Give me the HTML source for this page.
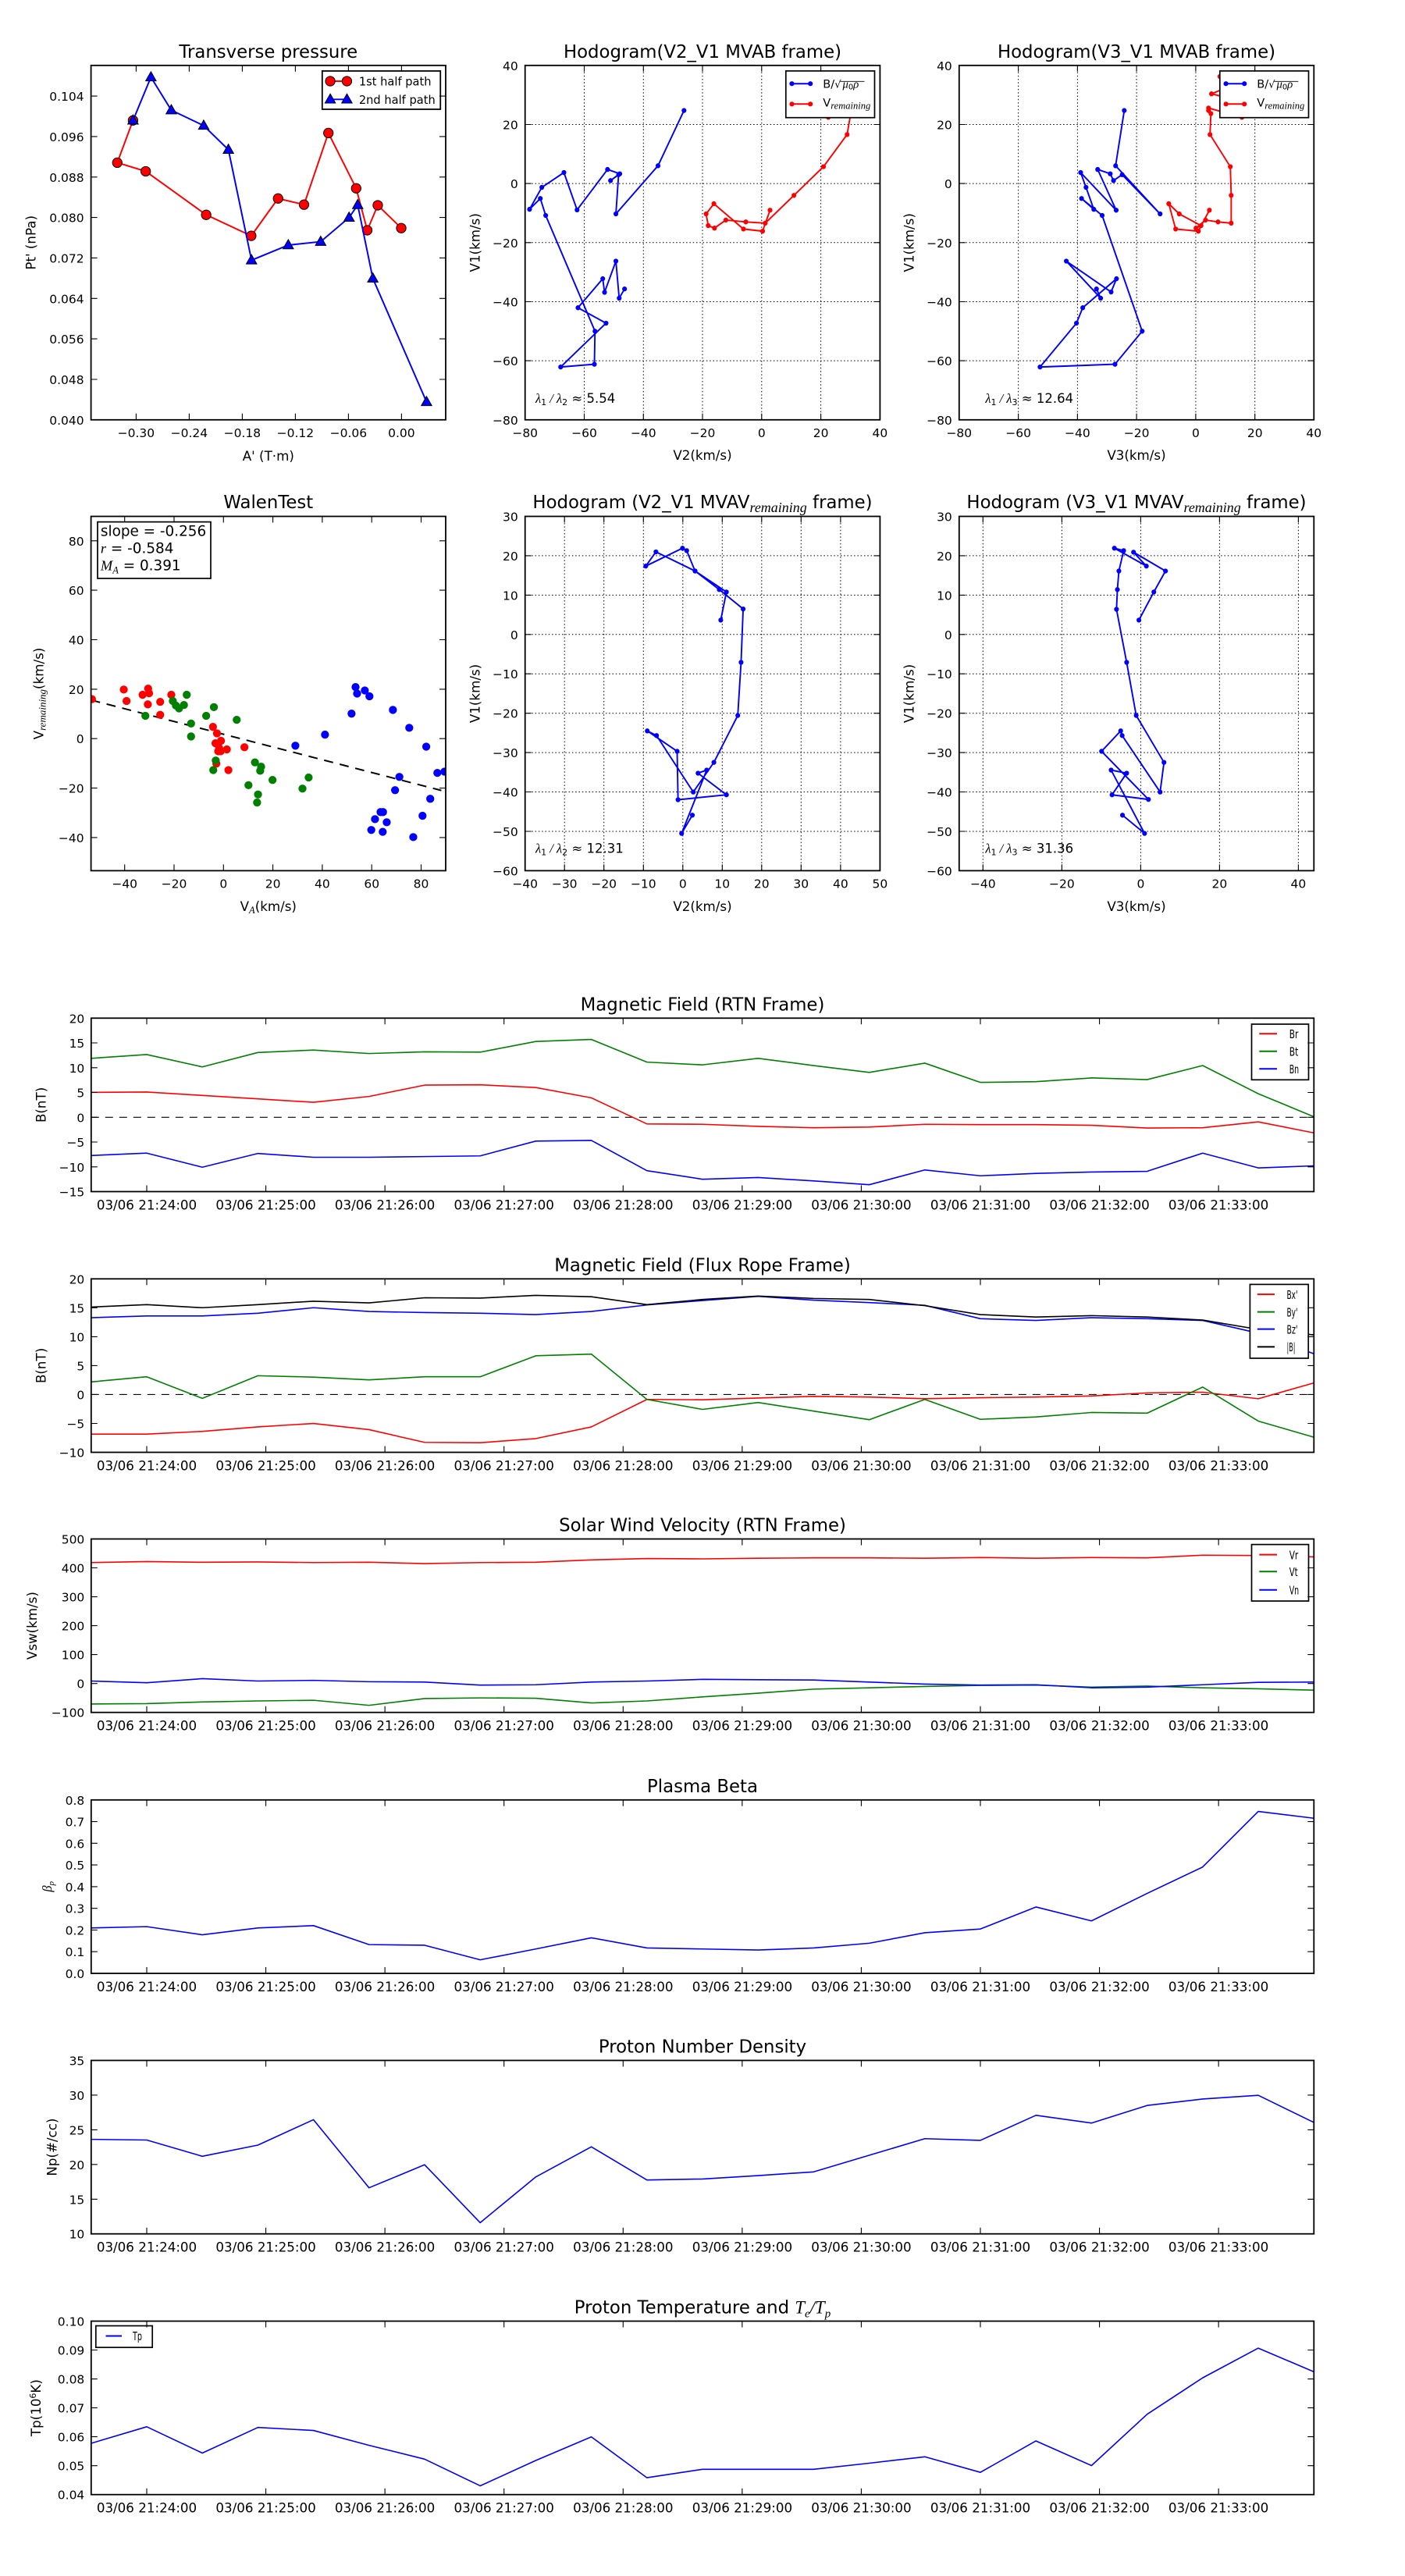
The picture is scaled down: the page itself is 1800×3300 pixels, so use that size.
<!DOCTYPE html>
<html><head><meta charset="utf-8"><style>
html,body{margin:0;padding:0;background:#fff}
svg{display:block}
text{font-family:"DejaVu Sans","Liberation Sans",sans-serif;fill:#000}
.tk{font-size:15.5px}
.tx{font-size:16.7px;text-anchor:middle}
.tt{font-size:22.8px;text-anchor:middle}
.lb{font-size:16.7px;text-anchor:middle}
.e{text-anchor:end}
.m{text-anchor:middle}
.fr{fill:none;stroke:#000;stroke-width:1.8}
.tick{fill:none;stroke:#000;stroke-width:1.1}
.grid{fill:none;stroke:#000;stroke-width:1;stroke-dasharray:1.5,2.8}
.mi{font-family:"Liberation Serif","DejaVu Serif",serif;font-style:italic}
.ns{vector-effect:non-scaling-stroke;fill:none;stroke-width:1.6;stroke-linejoin:round}
.lg{font-size:15px}
</style></head><body>
<svg width="1800" height="3300" viewBox="0 0 1800 3300" xmlns="http://www.w3.org/2000/svg">
<defs>
<marker id="ar" markerUnits="userSpaceOnUse" markerWidth="40" markerHeight="40" refX="20" refY="20" overflow="visible"><circle cx="20" cy="20" r="15.5" fill="#f00" stroke="#000" stroke-width="2.5"/></marker>
<marker id="ab" markerUnits="userSpaceOnUse" markerWidth="40" markerHeight="40" refX="20" refY="20" overflow="visible"><path d="M20,2L37,32L3,32Z" fill="#00f" stroke="#000" stroke-width="2.5"/></marker>
<marker id="hb" markerUnits="userSpaceOnUse" markerWidth="20" markerHeight="20" refX="10" refY="10" overflow="visible"><circle cx="10" cy="10" r="8" fill="#00f"/></marker>
<marker id="hr" markerUnits="userSpaceOnUse" markerWidth="20" markerHeight="20" refX="10" refY="10" overflow="visible"><circle cx="10" cy="10" r="8" fill="#f00"/></marker>
<marker id="wr" markerUnits="userSpaceOnUse" markerWidth="30" markerHeight="30" refX="15" refY="15" overflow="visible"><circle cx="15" cy="15" r="13" fill="#f00"/></marker>
<marker id="wg" markerUnits="userSpaceOnUse" markerWidth="30" markerHeight="30" refX="15" refY="15" overflow="visible"><circle cx="15" cy="15" r="13" fill="#008000"/></marker>
<marker id="wb" markerUnits="userSpaceOnUse" markerWidth="30" markerHeight="30" refX="15" refY="15" overflow="visible"><circle cx="15" cy="15" r="13" fill="#00f"/></marker>
<clipPath id="cw"><rect x="295" y="105" width="1149" height="1148"/></clipPath>
</defs>

<!-- ===================== Panel A: Transverse pressure ===================== -->
<text class="tt" x="343.8" y="74">Transverse pressure</text>
<g transform="scale(0.39541)">
<polyline points="431,390 380,527 472,555 668,696 814,764 901,643 985,663 1064,431 1154,610 1190,746 1224,665 1300,739" fill="none" stroke="#f00" stroke-width="5" marker-start="url(#ar)" marker-mid="url(#ar)" marker-end="url(#ar)"/>
<polyline points="1382,1302 1208,902 1159,664 1131,705 1039,783 934,794 815,843 740,485 660,407 555,357 489,250 431,390" fill="none" stroke="#00f" stroke-width="5" marker-start="url(#ab)" marker-mid="url(#ab)" marker-end="url(#ab)"/>
<rect x="1044" y="230" width="383" height="124" fill="#fff" stroke="#000" stroke-width="4.5"/>
<polyline points="1070,263 1124,263" fill="none" stroke="#f00" stroke-width="5" marker-start="url(#ar)" marker-end="url(#ar)"/>
<polyline points="1070,322 1124,322" fill="none" stroke="#00f" stroke-width="5" marker-start="url(#ab)" marker-end="url(#ab)"/>
<text x="1163" y="277" font-size="37">1st half path</text>
<text x="1163" y="336" font-size="37">2nd half path</text>
</g>
<rect class="fr" x="116.6" y="83.8" width="454.4" height="454"/>
<path class="tick" d="M174.4 537.8v-8M242.4 537.8v-8M310.4 537.8v-8M378.4 537.8v-8M446.4 537.8v-8M514.4 537.8v-8M174.4 83.8v8M242.4 83.8v8M310.4 83.8v8M378.4 83.8v8M446.4 83.8v8M514.4 83.8v8M116.6 486h8M116.6 434.1h8M116.6 382.3h8M116.6 330.4h8M116.6 278.6h8M116.6 226.8h8M116.6 174.9h8M116.6 123.1h8M571 486h-8M571 434.1h-8M571 382.3h-8M571 330.4h-8M571 278.6h-8M571 226.8h-8M571 174.9h-8M571 123.1h-8"/>
<g class="tk e">
<text x="107.6" y="543.8">0.040</text><text x="107.6" y="492">0.048</text><text x="107.6" y="440.1">0.056</text><text x="107.6" y="388.3">0.064</text><text x="107.6" y="336.4">0.072</text><text x="107.6" y="284.6">0.080</text><text x="107.6" y="232.8">0.088</text><text x="107.6" y="180.9">0.096</text><text x="107.6" y="129.1">0.104</text>
</g>
<g class="tk m">
<text x="174.4" y="559.8">−0.30</text><text x="242.4" y="559.8">−0.24</text><text x="310.4" y="559.8">−0.18</text><text x="378.4" y="559.8">−0.12</text><text x="446.4" y="559.8">−0.06</text><text x="514.4" y="559.8">0.00</text>
</g>
<text class="lb" x="343.8" y="590">A' (T·m)</text>
<text class="lb" transform="translate(45.5,310.8) rotate(-90)">Pt' (nPa)</text>

<!-- ===================== Panel B: Hodogram V2_V1 ===================== -->
<text class="tt" x="900" y="74">Hodogram(V2_V1 MVAB frame)</text>
<path class="grid" d="M748.5 83.8V537.8M824.3 83.8V537.8M900 83.8V537.8M975.8 83.8V537.8M1051.6 83.8V537.8M672.7 159.5H1127.4M672.7 235.1H1127.4M672.7 310.8H1127.4M672.7 386.5H1127.4M672.7 462.1H1127.4"/>
<g transform="translate(600,0) scale(0.3827,0.39541)">
<polyline points="722,358 635,537 494,693 503,566 476,585 507,563 466,549 364,680 320,559 246,607 205,678 241,643 259,698 424,1073 422,1180 309,1189 461,1047 367,997 450,903 456,947 494,846 505,966 523,936" fill="none" stroke="#00f" stroke-width="5" marker-start="url(#hb)" marker-mid="url(#hb)" marker-end="url(#hb)"/>
<polyline points="1300,250 1310,272 1290,304 1300,325 1205,380 1285,350 1290,358 1280,368 1268,436 1189,540 1090,633 994,723 929,719 862,713 824,739 803,731 796,693 822,660 921,742 985,749 1010,681" fill="none" stroke="#f00" stroke-width="5" marker-start="url(#hr)" marker-mid="url(#hr)" marker-end="url(#hr)"/>
</g>
<rect x="1006.8" y="90.9" width="113.7" height="59.8" fill="#fff" stroke="#000" stroke-width="1.7"/>
<path d="M1014.5 107.2H1038.2" stroke="#00f" stroke-width="2"/><circle cx="1014.5" cy="107.2" r="3.1" fill="#00f"/><circle cx="1038.2" cy="107.2" r="3.1" fill="#00f"/>
<path d="M1014.5 133.3H1038.2" stroke="#f00" stroke-width="2"/><circle cx="1014.5" cy="133.3" r="3.1" fill="#f00"/><circle cx="1038.2" cy="133.3" r="3.1" fill="#f00"/>
<text x="1054.3" y="112.7" font-size="14.6">B/<tspan font-size="13">√</tspan><tspan class="mi" dx="2">μ</tspan><tspan font-size="10" dy="2">0</tspan><tspan class="mi" dy="-2">ρ</tspan></text>
<path d="M1075.8 104.3H1107.5" stroke="#000" stroke-width="0.9"/>
<text x="1054.3" y="136.7" font-size="14.6">V<tspan class="mi" font-size="12.5" dy="2.6">remaining</tspan></text>
<rect class="fr" x="672.7" y="83.8" width="454.7" height="454"/>
<path class="tick" d="M748.5 537.8v-8M824.3 537.8v-8M900 537.8v-8M975.8 537.8v-8M1051.6 537.8v-8M748.5 83.8v8M824.3 83.8v8M900 83.8v8M975.8 83.8v8M1051.6 83.8v8M672.7 159.5h8M672.7 235.1h8M672.7 310.8h8M672.7 386.5h8M672.7 462.1h8M1127.4 159.5h-8M1127.4 235.1h-8M1127.4 310.8h-8M1127.4 386.5h-8M1127.4 462.1h-8"/>
<g class="tk e">
<text x="663.7" y="89.8">40</text><text x="663.7" y="165.5">20</text><text x="663.7" y="241.1">0</text><text x="663.7" y="316.8">−20</text><text x="663.7" y="392.5">−40</text><text x="663.7" y="468.1">−60</text><text x="663.7" y="543.8">−80</text>
</g>
<g class="tk m">
<text x="672.7" y="559.8">−80</text><text x="748.5" y="559.8">−60</text><text x="824.3" y="559.8">−40</text><text x="900" y="559.8">−20</text><text x="975.8" y="559.8">0</text><text x="1051.6" y="559.8">20</text><text x="1127.4" y="559.8">40</text>
</g>
<text x="686" y="516" font-size="16.5"><tspan class="mi">λ</tspan><tspan font-size="11" dy="3">1</tspan><tspan class="mi" dy="-3"> / λ</tspan><tspan font-size="11" dy="3">2</tspan><tspan dy="-3"> ≈ 5.54</tspan></text>
<text class="lb" x="900" y="589">V2(km/s)</text>
<text class="lb" transform="translate(614.4,310.8) rotate(-90)">V1(km/s)</text>

<!-- ===================== Panel C: Hodogram V3_V1 ===================== -->
<text class="tt" x="1456" y="74">Hodogram(V3_V1 MVAB frame)</text>
<path class="grid" d="M1304.6 83.8V537.8M1380.4 83.8V537.8M1456.1 83.8V537.8M1531.9 83.8V537.8M1607.7 83.8V537.8M1228.8 159.5H1683.3M1228.8 235.1H1683.3M1228.8 310.8H1683.3M1228.8 386.5H1683.3M1228.8 462.1H1683.3"/>
<g transform="translate(1200,0) scale(0.3827,0.39541)">
<polyline points="628,358 599,537 748,693 621,566 592,585 581,563 539,549 601,681 482,559 500,607 526,678 485,643 554,698 688,1073 597,1180 346,1189 468,1047 489,997 602,903 584,946 434,846 549,966 535,936" fill="none" stroke="#00f" stroke-width="5" marker-start="url(#hb)" marker-mid="url(#hb)" marker-end="url(#hb)"/>
<polyline points="948,248 1000,272 920,304 1010,325 1022,380 910,350 910,358 918,368 915,436 983,540 986,633 986,723 942,719 900,713 868,739 885,731 812,693 777,660 800,742 876,749 913,681" fill="none" stroke="#f00" stroke-width="5" marker-start="url(#hr)" marker-mid="url(#hr)" marker-end="url(#hr)"/>
</g>
<rect x="1562.8" y="90.9" width="113.7" height="59.8" fill="#fff" stroke="#000" stroke-width="1.7"/>
<path d="M1570.6 107.2H1594.2" stroke="#00f" stroke-width="2"/><circle cx="1570.6" cy="107.2" r="3.1" fill="#00f"/><circle cx="1594.2" cy="107.2" r="3.1" fill="#00f"/>
<path d="M1570.6 133.3H1594.2" stroke="#f00" stroke-width="2"/><circle cx="1570.6" cy="133.3" r="3.1" fill="#f00"/><circle cx="1594.2" cy="133.3" r="3.1" fill="#f00"/>
<text x="1610.3" y="112.7" font-size="14.6">B/<tspan font-size="13">√</tspan><tspan class="mi" dx="2">μ</tspan><tspan font-size="10" dy="2">0</tspan><tspan class="mi" dy="-2">ρ</tspan></text>
<path d="M1631.7 104.3H1663.3" stroke="#000" stroke-width="0.9"/>
<text x="1610.3" y="136.7" font-size="14.6">V<tspan class="mi" font-size="12.5" dy="2.6">remaining</tspan></text>
<rect class="fr" x="1228.8" y="83.8" width="454.5" height="454"/>
<path class="tick" d="M1304.6 537.8v-8M1380.4 537.8v-8M1456.1 537.8v-8M1531.9 537.8v-8M1607.7 537.8v-8M1304.6 83.8v8M1380.4 83.8v8M1456.1 83.8v8M1531.9 83.8v8M1607.7 83.8v8M1228.8 159.5h8M1228.8 235.1h8M1228.8 310.8h8M1228.8 386.5h8M1228.8 462.1h8M1683.3 159.5h-8M1683.3 235.1h-8M1683.3 310.8h-8M1683.3 386.5h-8M1683.3 462.1h-8"/>
<g class="tk e">
<text x="1219.8" y="89.8">40</text><text x="1219.8" y="165.5">20</text><text x="1219.8" y="241.1">0</text><text x="1219.8" y="316.8">−20</text><text x="1219.8" y="392.5">−40</text><text x="1219.8" y="468.1">−60</text><text x="1219.8" y="543.8">−80</text>
</g>
<g class="tk m">
<text x="1228.8" y="559.8">−80</text><text x="1304.6" y="559.8">−60</text><text x="1380.4" y="559.8">−40</text><text x="1456.1" y="559.8">−20</text><text x="1531.9" y="559.8">0</text><text x="1607.7" y="559.8">20</text><text x="1683.3" y="559.8">40</text>
</g>
<text x="1262.4" y="516" font-size="16.5"><tspan class="mi">λ</tspan><tspan font-size="11" dy="3">1</tspan><tspan class="mi" dy="-3"> / λ</tspan><tspan font-size="11" dy="3">3</tspan><tspan dy="-3"> ≈ 12.64</tspan></text>
<text class="lb" x="1456" y="589">V3(km/s)</text>
<text class="lb" transform="translate(1170.5,310.8) rotate(-90)">V1(km/s)</text>

<!-- ===================== Walen test ===================== -->
<text class="tt" x="343.8" y="651">WalenTest</text>
<g transform="translate(0,620) scale(0.39541)">
<g clip-path="url(#cw)">
<path d="M295 700L1430 993" stroke="#000" stroke-width="5" stroke-dasharray="30,22" fill="none"/>
<polyline fill="none" stroke="none" marker-start="url(#wr)" marker-mid="url(#wr)" marker-end="url(#wr)" points="298,697 401,666 410,703 462,683 480,663 483,678 479,714 519,706 519,748 555,683 690,787 703,808 698,840 716,832 710,855 707,866 715,866 735,860 792,853 740,927 701,906"/>
<polyline fill="none" stroke="none" marker-start="url(#wg)" marker-mid="url(#wg)" marker-end="url(#wg)" points="471,751 560,703 570,718 580,727 596,716 605,683 619,776 619,818 668,751 693,723 767,764 699,896 691,927 826,902 846,916 843,929 805,976 836,1006 833,1032 883,959 980,987 1000,951"/>
<polyline fill="none" stroke="none" marker-start="url(#wb)" marker-mid="url(#wb)" marker-end="url(#wb)" points="957,848 1053,812 1139,744 1152,658 1157,679 1182,669 1197,688 1273,732 1326,790 1381,851 1417,936 1440,932 1294,949 1280,992 1394,1020 1369,1075 1233,1063 1241,1063 1215,1086 1253,1096 1203,1121 1240,1127 1339,1144"/>
</g>
</g>
<rect x="125" y="668.6" width="145" height="72.4" fill="#fff" stroke="#000" stroke-width="1.7"/>
<text x="128.9" y="686.4" font-size="18.4">slope = -0.256</text>
<text x="128.9" y="708.6" font-size="18.4"><tspan class="mi">r</tspan> = -0.584</text>
<text x="128.9" y="730.7" font-size="18.4"><tspan class="mi">M</tspan><tspan class="mi" font-size="12.5" dy="4">A</tspan><tspan dy="-4"> = 0.391</tspan></text>
<rect class="fr" x="116.6" y="661.5" width="454.4" height="453.9"/>
<path class="tick" d="M159.7 1115.4v-8M223 1115.4v-8M286.3 1115.4v-8M349.6 1115.4v-8M412.9 1115.4v-8M476.2 1115.4v-8M539.5 1115.4v-8M159.7 661.5v8M223 661.5v8M286.3 661.5v8M349.6 661.5v8M412.9 661.5v8M476.2 661.5v8M539.5 661.5v8M116.6 692.8h8M116.6 756.1h8M116.6 819.5h8M116.6 882.9h8M116.6 946.2h8M116.6 1009.6h8M116.6 1072.9h8M571 692.8h-8M571 756.1h-8M571 819.5h-8M571 882.9h-8M571 946.2h-8M571 1009.6h-8M571 1072.9h-8"/>
<g class="tk e">
<text x="107.6" y="698.8">80</text><text x="107.6" y="762.1">60</text><text x="107.6" y="825.5">40</text><text x="107.6" y="888.9">20</text><text x="107.6" y="952.2">0</text><text x="107.6" y="1015.6">−20</text><text x="107.6" y="1078.9">−40</text>
</g>
<g class="tk m">
<text x="159.7" y="1137.4">−40</text><text x="223" y="1137.4">−20</text><text x="286.3" y="1137.4">0</text><text x="349.6" y="1137.4">20</text><text x="412.9" y="1137.4">40</text><text x="476.2" y="1137.4">60</text><text x="539.5" y="1137.4">80</text>
</g>
<text class="lb" x="343.8" y="1167">V<tspan class="mi" font-size="12.5" dy="3">A</tspan><tspan dy="-3">(km/s)</tspan></text>
<text class="lb" transform="translate(55.4,888.5) rotate(-90)">V<tspan class="mi" font-size="13" dy="3">remaining</tspan><tspan dy="-3">(km/s)</tspan></text>

<!-- ===================== Hodogram V2_V1 MVAV ===================== -->
<text class="tt" x="900" y="651">Hodogram (V2_V1 MVAV<tspan class="mi" font-size="18" dy="5">remaining</tspan><tspan dy="-5"> frame)</tspan></text>
<path class="grid" d="M723.2 661.5V1115.4M773.7 661.5V1115.4M824.3 661.5V1115.4M874.8 661.5V1115.4M925.3 661.5V1115.4M975.8 661.5V1115.4M1026.3 661.5V1115.4M1076.9 661.5V1115.4M672.7 711.9H1127.4M672.7 762.4H1127.4M672.7 812.8H1127.4M672.7 863.2H1127.4M672.7 913.7H1127.4M672.7 964.1H1127.4M672.7 1014.5H1127.4M672.7 1065H1127.4"/>
<g transform="translate(600,620) scale(0.3827,0.39541)">
<polyline points="845,441 864,350 759,282 628,220 594,266 717,208 731,216 759,282 840,342 920,405 913,578 902,750 822,902 753,998 630,815 599,800 699,866 702,1023 864,1007 769,937 798,927 714,1132 750,1073" fill="none" stroke="#00f" stroke-width="5" marker-start="url(#hb)" marker-mid="url(#hb)" marker-end="url(#hb)"/>
</g>
<rect class="fr" x="672.7" y="661.5" width="454.7" height="453.9"/>
<path class="tick" d="M723.2 1115.4v-8M773.7 1115.4v-8M824.3 1115.4v-8M874.8 1115.4v-8M925.3 1115.4v-8M975.8 1115.4v-8M1026.3 1115.4v-8M1076.9 1115.4v-8M723.2 661.5v8M773.7 661.5v8M824.3 661.5v8M874.8 661.5v8M925.3 661.5v8M975.8 661.5v8M1026.3 661.5v8M1076.9 661.5v8M672.7 711.9h8M672.7 762.4h8M672.7 812.8h8M672.7 863.2h8M672.7 913.7h8M672.7 964.1h8M672.7 1014.5h8M672.7 1065h8M1127.4 711.9h-8M1127.4 762.4h-8M1127.4 812.8h-8M1127.4 863.2h-8M1127.4 913.7h-8M1127.4 964.1h-8M1127.4 1014.5h-8M1127.4 1065h-8"/>
<g class="tk e">
<text x="663.7" y="667.5">30</text><text x="663.7" y="717.9">20</text><text x="663.7" y="768.4">10</text><text x="663.7" y="818.8">0</text><text x="663.7" y="869.2">−10</text><text x="663.7" y="919.7">−20</text><text x="663.7" y="970.1">−30</text><text x="663.7" y="1020.5">−40</text><text x="663.7" y="1071">−50</text><text x="663.7" y="1121.4">−60</text>
</g>
<g class="tk m">
<text x="672.7" y="1137.4">−40</text><text x="723.2" y="1137.4">−30</text><text x="773.7" y="1137.4">−20</text><text x="824.3" y="1137.4">−10</text><text x="874.8" y="1137.4">0</text><text x="925.3" y="1137.4">10</text><text x="975.8" y="1137.4">20</text><text x="1026.3" y="1137.4">30</text><text x="1076.9" y="1137.4">40</text><text x="1127.4" y="1137.4">50</text>
</g>
<text x="686" y="1092.5" font-size="16.5"><tspan class="mi">λ</tspan><tspan font-size="11" dy="3">1</tspan><tspan class="mi" dy="-3"> / λ</tspan><tspan font-size="11" dy="3">2</tspan><tspan dy="-3"> ≈ 12.31</tspan></text>
<text class="lb" x="900" y="1167">V2(km/s)</text>
<text class="lb" transform="translate(614.4,888.5) rotate(-90)">V1(km/s)</text>

<!-- ===================== Hodogram V3_V1 MVAV ===================== -->
<text class="tt" x="1456" y="651">Hodogram (V3_V1 MVAV<tspan class="mi" font-size="18" dy="5">remaining</tspan><tspan dy="-5"> frame)</tspan></text>
<path class="grid" d="M1259.3 661.5V1115.4M1360.4 661.5V1115.4M1461.4 661.5V1115.4M1562.4 661.5V1115.4M1663.4 661.5V1115.4M1228.8 711.9H1683.3M1228.8 762.4H1683.3M1228.8 812.8H1683.3M1228.8 863.2H1683.3M1228.8 913.7H1683.3M1228.8 964.1H1683.3M1228.8 1014.5H1683.3M1228.8 1065H1683.3"/>
<g transform="translate(1200,620) scale(0.3827,0.39541)">
<polyline points="677,441 727,350 766,282 659,221 702,266 595,208 626,216 610,282 605,342 602,406 636,578 668,750 761,902 748,998 621,815 616,800 552,866 709,1022 587,1007 636,937 584,927 696,1132 622,1073" fill="none" stroke="#00f" stroke-width="5" marker-start="url(#hb)" marker-mid="url(#hb)" marker-end="url(#hb)"/>
</g>
<rect class="fr" x="1228.8" y="661.5" width="454.5" height="453.9"/>
<path class="tick" d="M1259.3 1115.4v-8M1360.4 1115.4v-8M1461.4 1115.4v-8M1562.4 1115.4v-8M1663.4 1115.4v-8M1259.3 661.5v8M1360.4 661.5v8M1461.4 661.5v8M1562.4 661.5v8M1663.4 661.5v8M1228.8 711.9h8M1228.8 762.4h8M1228.8 812.8h8M1228.8 863.2h8M1228.8 913.7h8M1228.8 964.1h8M1228.8 1014.5h8M1228.8 1065h8M1683.3 711.9h-8M1683.3 762.4h-8M1683.3 812.8h-8M1683.3 863.2h-8M1683.3 913.7h-8M1683.3 964.1h-8M1683.3 1014.5h-8M1683.3 1065h-8"/>
<g class="tk e">
<text x="1219.8" y="667.5">30</text><text x="1219.8" y="717.9">20</text><text x="1219.8" y="768.4">10</text><text x="1219.8" y="818.8">0</text><text x="1219.8" y="869.2">−10</text><text x="1219.8" y="919.7">−20</text><text x="1219.8" y="970.1">−30</text><text x="1219.8" y="1020.5">−40</text><text x="1219.8" y="1071">−50</text><text x="1219.8" y="1121.4">−60</text>
</g>
<g class="tk m">
<text x="1259.3" y="1137.4">−40</text><text x="1360.4" y="1137.4">−20</text><text x="1461.4" y="1137.4">0</text><text x="1562.4" y="1137.4">20</text><text x="1663.4" y="1137.4">40</text>
</g>
<text x="1262.4" y="1092.5" font-size="16.5"><tspan class="mi">λ</tspan><tspan font-size="11" dy="3">1</tspan><tspan class="mi" dy="-3"> / λ</tspan><tspan font-size="11" dy="3">3</tspan><tspan dy="-3"> ≈ 31.36</tspan></text>
<text class="lb" x="1456" y="1167">V3(km/s)</text>
<text class="lb" transform="translate(1170.5,888.5) rotate(-90)">V1(km/s)</text>

<!-- ===================== TS 1: Magnetic Field RTN ===================== -->
<text class="tt" x="900" y="1294.3">Magnetic Field (RTN Frame)</text>
<path d="M116.8 1431.3H1683.3" stroke="#000" stroke-width="1.1" stroke-dasharray="10,8"/>
<g transform="translate(116.8,1304.3) scale(71.2,0.44) translate(0,-78)">
<polyline class="ns" stroke="#f00" points="0,294 1,293 2,303 3,313 4,323 5,306 6,273 7,272 8,280 9,310 10,386 11,387 12,393 13,397 14,395 15,387 16,388 17,388 18,390 19,398 20,397 21,380 22,412"/>
<polyline class="ns" stroke="#008000" points="0,195 1,184 2,220 3,178 4,171 5,181 6,176 7,177 8,146 9,140 10,206 11,214 12,195 13,216 14,236 15,209 16,265 17,263 18,252 19,257 20,216 21,298 22,365"/>
<polyline class="ns" stroke="#00f" points="0,478 1,471 2,512 3,472 4,483 5,483 6,481 7,479 8,436 9,434 10,522 11,547 12,542 13,552 14,563 15,520 16,537 17,530 18,526 19,524 20,471 21,514 22,508"/>
</g>
<rect x="1603.5" y="1312" width="73" height="71.3" fill="#fff" stroke="#000" stroke-width="1.7"/>
<path d="M1613.3 1324.3H1636" stroke="#f00" stroke-width="2"/><path d="M1613.3 1346.7H1636" stroke="#008000" stroke-width="2"/><path d="M1613.3 1369.3H1636" stroke="#00f" stroke-width="2"/>
<text class="lg" x="1651.7" y="1330" textLength="11.6" lengthAdjust="spacingAndGlyphs">Br</text>
<text class="lg" x="1651.7" y="1352.7" textLength="11.6" lengthAdjust="spacingAndGlyphs">Bt</text>
<text class="lg" x="1651.7" y="1375" textLength="12.5" lengthAdjust="spacingAndGlyphs">Bn</text>
<rect class="fr" x="116.8" y="1304.3" width="1566.5" height="222.2"/>
<path class="tick" d="M188 1526.5v-8m152.57 8v-8m152.57 8v-8m152.57 8v-8m152.57 8v-8m152.57 8v-8m152.57 8v-8m152.57 8v-8m152.57 8v-8m152.57 8v-8M188 1304.3v8m152.57 -8v8m152.57 -8v8m152.57 -8v8m152.57 -8v8m152.57 -8v8m152.57 -8v8m152.57 -8v8m152.57 -8v8m152.57 -8v8M116.8 1336h8M116.8 1367.8h8M116.8 1399.5h8M116.8 1431.3h8M116.8 1463h8M116.8 1494.8h8M1683.3 1336h-8M1683.3 1367.8h-8M1683.3 1399.5h-8M1683.3 1431.3h-8M1683.3 1463h-8M1683.3 1494.8h-8"/>
<g class="tk e">
<text x="108.3" y="1310.3">20</text><text x="108.3" y="1342">15</text><text x="108.3" y="1373.8">10</text><text x="108.3" y="1405.5">5</text><text x="108.3" y="1437.3">0</text><text x="108.3" y="1469">−5</text><text x="108.3" y="1500.8">−10</text><text x="108.3" y="1532.5">−15</text>
</g>
<g class="tx">
<text x="188" y="1549.5">03/06 21:24:00</text><text x="340.6" y="1549.5">03/06 21:25:00</text><text x="493.1" y="1549.5">03/06 21:26:00</text><text x="645.7" y="1549.5">03/06 21:27:00</text><text x="798.3" y="1549.5">03/06 21:28:00</text><text x="950.9" y="1549.5">03/06 21:29:00</text><text x="1103.4" y="1549.5">03/06 21:30:00</text><text x="1256" y="1549.5">03/06 21:31:00</text><text x="1408.6" y="1549.5">03/06 21:32:00</text><text x="1561.1" y="1549.5">03/06 21:33:00</text>
</g>
<text class="lb" font-size="16" transform="translate(58.5,1415.4) rotate(-90)">B(nT)</text>

<!-- ===================== TS 2: Flux rope ===================== -->
<text class="tt" x="900" y="1628.3">Magnetic Field (Flux Rope Frame)</text>
<path d="M116.8 1786.4H1683.3" stroke="#000" stroke-width="1.1" stroke-dasharray="10,8"/>
<g transform="translate(116.8,1638.3) scale(71.2,0.44) translate(0,-837)">
<polyline class="ns" stroke="#f00" points="0,1289 1,1289 2,1281 3,1268 4,1258 5,1276 6,1313 7,1314 8,1302 9,1268 10,1188 11,1189 12,1184 13,1179 14,1181 15,1186 16,1183 17,1181 18,1178 19,1169 20,1167 21,1186 22,1140"/>
<polyline class="ns" stroke="#008000" points="0,1137 1,1122 2,1185 3,1119 4,1123 5,1131 6,1122 7,1122 8,1061 9,1056 10,1188 11,1217 12,1197 13,1222 14,1247 15,1188 16,1246 17,1239 18,1226 19,1228 20,1152 21,1251 22,1298"/>
<polyline class="ns" stroke="#00f" points="0,950 1,945 2,945 3,937 4,921 5,932 6,935 7,937 8,941 9,932 10,913 11,900 12,888 13,899 14,906 15,914 16,953 17,958 18,950 19,953 20,958 21,995 22,1055"/>
<polyline class="ns" stroke="#000" points="0,919 1,912 2,921 3,912 4,902 5,907 6,892 7,893 8,885 9,889 10,912 11,897 12,887 13,894 14,897 15,915 16,941 17,948 18,944 19,948 20,957 21,984 22,1000"/>
</g>
<rect x="1601.4" y="1645.4" width="74.8" height="94.6" fill="#fff" stroke="#000" stroke-width="1.7"/>
<path d="M1610.8 1658.1H1633" stroke="#f00" stroke-width="2"/><path d="M1610.8 1680.6H1633" stroke="#008000" stroke-width="2"/><path d="M1610.8 1702.6H1633" stroke="#00f" stroke-width="2"/><path d="M1610.8 1725.4H1633" stroke="#000" stroke-width="2"/>
<text class="lg" x="1648.5" y="1663.8" textLength="14" lengthAdjust="spacingAndGlyphs">Bx'</text>
<text class="lg" x="1648.5" y="1686.3" textLength="14" lengthAdjust="spacingAndGlyphs">By'</text>
<text class="lg" x="1648.5" y="1708.3" textLength="14" lengthAdjust="spacingAndGlyphs">Bz'</text>
<text class="lg" x="1648.5" y="1731.1" textLength="11" lengthAdjust="spacingAndGlyphs">|B|</text>
<rect class="fr" x="116.8" y="1638.3" width="1566.5" height="222.2"/>
<path class="tick" d="M188 1860.5v-8m152.57 8v-8m152.57 8v-8m152.57 8v-8m152.57 8v-8m152.57 8v-8m152.57 8v-8m152.57 8v-8m152.57 8v-8m152.57 8v-8M188 1638.3v8m152.57 -8v8m152.57 -8v8m152.57 -8v8m152.57 -8v8m152.57 -8v8m152.57 -8v8m152.57 -8v8m152.57 -8v8m152.57 -8v8M116.8 1675.3h8M116.8 1712.4h8M116.8 1749.4h8M116.8 1786.4h8M116.8 1823.5h8M1683.3 1675.3h-8M1683.3 1712.4h-8M1683.3 1749.4h-8M1683.3 1786.4h-8M1683.3 1823.5h-8"/>
<g class="tk e">
<text x="108.3" y="1644.3">20</text><text x="108.3" y="1681.3">15</text><text x="108.3" y="1718.4">10</text><text x="108.3" y="1755.4">5</text><text x="108.3" y="1792.4">0</text><text x="108.3" y="1829.5">−5</text><text x="108.3" y="1866.5">−10</text>
</g>
<g class="tx">
<text x="188" y="1883.5">03/06 21:24:00</text><text x="340.6" y="1883.5">03/06 21:25:00</text><text x="493.1" y="1883.5">03/06 21:26:00</text><text x="645.7" y="1883.5">03/06 21:27:00</text><text x="798.3" y="1883.5">03/06 21:28:00</text><text x="950.9" y="1883.5">03/06 21:29:00</text><text x="1103.4" y="1883.5">03/06 21:30:00</text><text x="1256" y="1883.5">03/06 21:31:00</text><text x="1408.6" y="1883.5">03/06 21:32:00</text><text x="1561.1" y="1883.5">03/06 21:33:00</text>
</g>
<text class="lb" font-size="16" transform="translate(58.5,1749.4) rotate(-90)">B(nT)</text>

<!-- ===================== TS 3: Velocity ===================== -->
<text class="tt" x="900" y="1961.5">Solar Wind Velocity (RTN Frame)</text>
<g transform="translate(116.8,1971.5) scale(71.2,0.4323) translate(0,-48)">
<polyline class="ns" stroke="#f00" points="0,118 1,115 2,117 3,116 4,118 5,117 6,121 7,118 8,117 9,110 10,106 11,107 12,105 13,104 14,104 15,105 16,103 17,105 18,103 19,104 20,96 21,97 22,101"/>
<polyline class="ns" stroke="#008000" points="0,537 1,536 2,531 3,528 4,526 5,541 6,521 7,519 8,520 9,534 10,528 11,516 12,505 13,493 14,489 15,485 16,482 17,481 18,487 19,484 20,489 21,492 22,496"/>
<polyline class="ns" stroke="#00f" points="0,469 1,474 2,462 3,469 4,467 5,471 6,472 7,481 8,480 9,472 10,469 11,464 12,465 13,466 14,472 15,478 16,481 17,480 18,489 19,487 20,480 21,473 22,472"/>
</g>
<rect x="1603.5" y="1978.6" width="73" height="72.4" fill="#fff" stroke="#000" stroke-width="1.7"/>
<path d="M1613.3 1991.6H1636" stroke="#f00" stroke-width="2"/><path d="M1613.3 2013.3H1636" stroke="#008000" stroke-width="2"/><path d="M1613.3 2036.7H1636" stroke="#00f" stroke-width="2"/>
<text class="lg" x="1651.7" y="1997.3" textLength="11.6" lengthAdjust="spacingAndGlyphs">Vr</text>
<text class="lg" x="1651.7" y="2019" textLength="11" lengthAdjust="spacingAndGlyphs">Vt</text>
<text class="lg" x="1651.7" y="2042.4" textLength="12.5" lengthAdjust="spacingAndGlyphs">Vn</text>
<rect class="fr" x="116.8" y="1971.5" width="1566.5" height="222.2"/>
<path class="tick" d="M188 2193.7v-8m152.57 8v-8m152.57 8v-8m152.57 8v-8m152.57 8v-8m152.57 8v-8m152.57 8v-8m152.57 8v-8m152.57 8v-8m152.57 8v-8M188 1971.5v8m152.57 -8v8m152.57 -8v8m152.57 -8v8m152.57 -8v8m152.57 -8v8m152.57 -8v8m152.57 -8v8m152.57 -8v8m152.57 -8v8M116.8 2008.5h8M116.8 2045.6h8M116.8 2082.6h8M116.8 2119.6h8M116.8 2156.7h8M1683.3 2008.5h-8M1683.3 2045.6h-8M1683.3 2082.6h-8M1683.3 2119.6h-8M1683.3 2156.7h-8"/>
<g class="tk e">
<text x="108.3" y="1977.5">500</text><text x="108.3" y="2014.5">400</text><text x="108.3" y="2051.6">300</text><text x="108.3" y="2088.6">200</text><text x="108.3" y="2125.6">100</text><text x="108.3" y="2162.7">0</text><text x="108.3" y="2199.7">−100</text>
</g>
<g class="tx">
<text x="188" y="2216.7">03/06 21:24:00</text><text x="340.6" y="2216.7">03/06 21:25:00</text><text x="493.1" y="2216.7">03/06 21:26:00</text><text x="645.7" y="2216.7">03/06 21:27:00</text><text x="798.3" y="2216.7">03/06 21:28:00</text><text x="950.9" y="2216.7">03/06 21:29:00</text><text x="1103.4" y="2216.7">03/06 21:30:00</text><text x="1256" y="2216.7">03/06 21:31:00</text><text x="1408.6" y="2216.7">03/06 21:32:00</text><text x="1561.1" y="2216.7">03/06 21:33:00</text>
</g>
<text class="lb" font-size="16" transform="translate(47,2082.6) rotate(-90)">Vsw(km/s)</text>

<!-- ===================== TS 4: Plasma Beta ===================== -->
<text class="tt" x="900" y="2295.8">Plasma Beta</text>
<g transform="translate(116.8,2305.8) scale(71.2,0.434) translate(0,-820)">
<polyline class="ns" stroke="#00f" points="0,1198 1,1194 2,1218 3,1198 4,1191 5,1247 6,1249 7,1292 8,1260 9,1227 10,1257 11,1260 12,1263 13,1257 14,1243 15,1212 16,1201 17,1136 18,1177 19,1096 20,1018 21,854 22,874"/>
</g>
<rect class="fr" x="116.8" y="2305.8" width="1566.5" height="222.2"/>
<path class="tick" d="M188 2528v-8m152.57 8v-8m152.57 8v-8m152.57 8v-8m152.57 8v-8m152.57 8v-8m152.57 8v-8m152.57 8v-8m152.57 8v-8m152.57 8v-8M188 2305.8v8m152.57 -8v8m152.57 -8v8m152.57 -8v8m152.57 -8v8m152.57 -8v8m152.57 -8v8m152.57 -8v8m152.57 -8v8m152.57 -8v8M116.8 2333.6h8M116.8 2361.3h8M116.8 2389.1h8M116.8 2416.9h8M116.8 2444.7h8M116.8 2472.5h8M116.8 2500.2h8M1683.3 2333.6h-8M1683.3 2361.3h-8M1683.3 2389.1h-8M1683.3 2416.9h-8M1683.3 2444.7h-8M1683.3 2472.5h-8M1683.3 2500.2h-8"/>
<g class="tk e">
<text x="108.3" y="2311.8">0.8</text><text x="108.3" y="2339.6">0.7</text><text x="108.3" y="2367.3">0.6</text><text x="108.3" y="2395.1">0.5</text><text x="108.3" y="2422.9">0.4</text><text x="108.3" y="2450.7">0.3</text><text x="108.3" y="2478.5">0.2</text><text x="108.3" y="2506.2">0.1</text><text x="108.3" y="2534">0.0</text>
</g>
<g class="tx">
<text x="188" y="2551">03/06 21:24:00</text><text x="340.6" y="2551">03/06 21:25:00</text><text x="493.1" y="2551">03/06 21:26:00</text><text x="645.7" y="2551">03/06 21:27:00</text><text x="798.3" y="2551">03/06 21:28:00</text><text x="950.9" y="2551">03/06 21:29:00</text><text x="1103.4" y="2551">03/06 21:30:00</text><text x="1256" y="2551">03/06 21:31:00</text><text x="1408.6" y="2551">03/06 21:32:00</text><text x="1561.1" y="2551">03/06 21:33:00</text>
</g>
<text class="lb" font-size="15" transform="translate(66,2416.9) rotate(-90)"><tspan class="mi">β</tspan><tspan class="mi" font-size="11" dy="3">p</tspan></text>

<!-- ===================== TS 5: Density ===================== -->
<text class="tt" x="900" y="2629.5">Proton Number Density</text>
<g transform="translate(116.8,2639.5) scale(71.2,0.434) translate(0,-43)">
<polyline class="ns" stroke="#00f" points="0,276 1,278 2,326 3,293 4,218 5,419 6,351 7,522 8,387 9,298 10,396 11,393 12,383 13,372 14,323 15,274 16,279 17,205 18,228 19,176 20,157 21,146 22,226"/>
</g>
<rect class="fr" x="116.8" y="2639.5" width="1566.5" height="222.2"/>
<path class="tick" d="M188 2861.7v-8m152.57 8v-8m152.57 8v-8m152.57 8v-8m152.57 8v-8m152.57 8v-8m152.57 8v-8m152.57 8v-8m152.57 8v-8m152.57 8v-8M188 2639.5v8m152.57 -8v8m152.57 -8v8m152.57 -8v8m152.57 -8v8m152.57 -8v8m152.57 -8v8m152.57 -8v8m152.57 -8v8m152.57 -8v8M116.8 2683.9h8M116.8 2728.4h8M116.8 2772.8h8M116.8 2817.3h8M1683.3 2683.9h-8M1683.3 2728.4h-8M1683.3 2772.8h-8M1683.3 2817.3h-8"/>
<g class="tk e">
<text x="108.3" y="2645.5">35</text><text x="108.3" y="2689.9">30</text><text x="108.3" y="2734.4">25</text><text x="108.3" y="2778.8">20</text><text x="108.3" y="2823.3">15</text><text x="108.3" y="2867.7">10</text>
</g>
<g class="tx">
<text x="188" y="2884.7">03/06 21:24:00</text><text x="340.6" y="2884.7">03/06 21:25:00</text><text x="493.1" y="2884.7">03/06 21:26:00</text><text x="645.7" y="2884.7">03/06 21:27:00</text><text x="798.3" y="2884.7">03/06 21:28:00</text><text x="950.9" y="2884.7">03/06 21:29:00</text><text x="1103.4" y="2884.7">03/06 21:30:00</text><text x="1256" y="2884.7">03/06 21:31:00</text><text x="1408.6" y="2884.7">03/06 21:32:00</text><text x="1561.1" y="2884.7">03/06 21:33:00</text>
</g>
<text class="lb" font-size="16" transform="translate(72.6,2750.6) rotate(-90)">Np(#/cc)</text>

<!-- ===================== TS 6: Temperature ===================== -->
<text class="tt" x="900" y="2963.5">Proton Temperature and <tspan class="mi">T</tspan><tspan class="mi" font-size="15" dy="5">e</tspan><tspan class="mi" dy="-5">/T</tspan><tspan class="mi" font-size="15" dy="5">p</tspan></text>
<g transform="translate(116.8,2973.5) scale(71.2,0.4323) translate(0,-813)">
<polyline class="ns" stroke="#00f" points="0,1175 1,1126 2,1204 3,1128 4,1137 5,1181 6,1222 7,1301 8,1226 9,1156 10,1277 11,1252 12,1252 13,1252 14,1234 15,1215 16,1261 17,1168 18,1241 19,1089 20,981 21,893 22,963"/>
</g>
<rect x="122.8" y="2979.5" width="72.4" height="27.7" fill="#fff" stroke="#000" stroke-width="1.7"/>
<path d="M135.5 2992.5H156" stroke="#00f" stroke-width="2"/>
<text class="lg" x="170" y="2998" textLength="12" lengthAdjust="spacingAndGlyphs">Tp</text>
<rect class="fr" x="116.8" y="2973.5" width="1566.5" height="222.2"/>
<path class="tick" d="M188 3195.7v-8m152.57 8v-8m152.57 8v-8m152.57 8v-8m152.57 8v-8m152.57 8v-8m152.57 8v-8m152.57 8v-8m152.57 8v-8m152.57 8v-8M188 2973.5v8m152.57 -8v8m152.57 -8v8m152.57 -8v8m152.57 -8v8m152.57 -8v8m152.57 -8v8m152.57 -8v8m152.57 -8v8m152.57 -8v8M116.8 3010.5h8M116.8 3047.6h8M116.8 3084.6h8M116.8 3121.6h8M116.8 3158.7h8M1683.3 3010.5h-8M1683.3 3047.6h-8M1683.3 3084.6h-8M1683.3 3121.6h-8M1683.3 3158.7h-8"/>
<g class="tk e">
<text x="108.3" y="2979.5">0.10</text><text x="108.3" y="3016.5">0.09</text><text x="108.3" y="3053.6">0.08</text><text x="108.3" y="3090.6">0.07</text><text x="108.3" y="3127.6">0.06</text><text x="108.3" y="3164.7">0.05</text><text x="108.3" y="3201.7">0.04</text>
</g>
<g class="tx">
<text x="188" y="3218.7">03/06 21:24:00</text><text x="340.6" y="3218.7">03/06 21:25:00</text><text x="493.1" y="3218.7">03/06 21:26:00</text><text x="645.7" y="3218.7">03/06 21:27:00</text><text x="798.3" y="3218.7">03/06 21:28:00</text><text x="950.9" y="3218.7">03/06 21:29:00</text><text x="1103.4" y="3218.7">03/06 21:30:00</text><text x="1256" y="3218.7">03/06 21:31:00</text><text x="1408.6" y="3218.7">03/06 21:32:00</text><text x="1561.1" y="3218.7">03/06 21:33:00</text>
</g>
<text class="lb" font-size="16" transform="translate(52,3084.6) rotate(-90)">Tp(10<tspan font-size="11" dy="-6">6</tspan><tspan dy="6">K)</tspan></text>
</svg>
</body></html>
